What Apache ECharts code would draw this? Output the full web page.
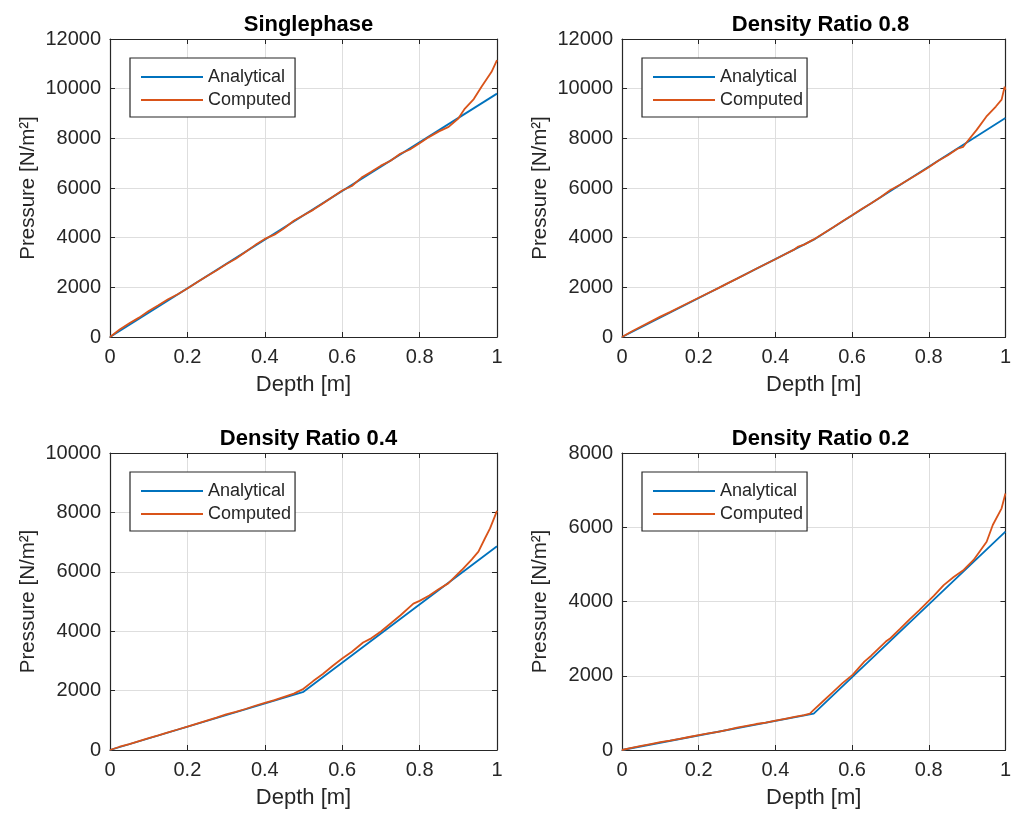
<!DOCTYPE html>
<html><head><meta charset="utf-8">
<script src="https://cdn.jsdelivr.net/npm/echarts@6/dist/echarts.min.js"></script>
<style>html,body{margin:0;padding:0;background:#fff}#c{width:1014px;height:821px}</style>
</head><body><div id="c"></div>
<script>
// ---- data ----
const titles = ['Singlephase', 'Density Ratio 0.8', 'Density Ratio 0.4', 'Density Ratio 0.2'];
const yMax = [12000, 12000, 10000, 8000];
const xTicks = [0, 0.2, 0.4, 0.6, 0.8, 1];

// analytical (depth, pressure)
const anaDepth1 = [0, 1];
const anaP1 = [0, 9800];
const anaDepth2 = [0, 0.5, 1];
const anaP2 = [0, 3920, 8820];
const anaDepth3 = [0, 0.5, 1];
const anaP3 = [0, 1960, 6860];
const anaDepth4 = [0, 0.5, 1];
const anaP4 = [0, 980, 5880];

// computed
const compDepth1 = [0,0.025,0.05,0.075,0.1,0.125,0.15,0.175,0.2,0.225,0.25,0.275,0.3,0.325,0.35,0.375,0.4,0.425,0.45,0.475,0.5,0.525,0.55,0.575,0.6,0.625,0.65,0.675,0.7,0.725,0.75,0.775,0.8,0.825,0.85,0.875,0.9,0.917,0.94,0.96,0.986,1.0];
const compP1 = [0,300,550,780,1050,1280,1520,1720,1950,2200,2450,2680,2930,3150,3420,3700,3950,4120,4380,4680,4900,5120,5380,5640,5900,6080,6420,6650,6900,7100,7380,7550,7800,8060,8280,8460,8800,9200,9580,10080,10680,11150];

const compDepth2 = [0,0.025,0.05,0.075,0.1,0.125,0.15,0.175,0.2,0.225,0.25,0.275,0.3,0.325,0.35,0.375,0.4,0.425,0.45,0.46,0.475,0.5,0.525,0.55,0.575,0.6,0.625,0.65,0.675,0.7,0.725,0.75,0.775,0.8,0.825,0.85,0.875,0.89,0.9,0.925,0.95,0.975,0.99,0.998,1.0];
const compP2 = [0,220,420,620,820,1000,1200,1390,1580,1770,1960,2160,2350,2550,2750,2940,3130,3330,3530,3640,3720,3930,4170,4410,4660,4900,5150,5390,5640,5920,6130,6360,6590,6840,7100,7320,7580,7660,7860,8340,8870,9280,9560,10080,9950];

const compDepth3 = [0,0.025,0.05,0.075,0.1,0.125,0.15,0.175,0.2,0.225,0.25,0.275,0.3,0.325,0.35,0.375,0.4,0.425,0.45,0.475,0.5,0.525,0.55,0.575,0.6,0.625,0.654,0.675,0.7,0.725,0.75,0.784,0.8,0.825,0.85,0.874,0.887,0.909,0.935,0.952,0.969,0.982,1.0];
const compP3 = [0,110,200,300,400,490,590,690,790,890,990,1090,1200,1280,1380,1490,1590,1680,1790,1900,2060,2320,2560,2830,3080,3310,3620,3760,3990,4260,4530,4930,5020,5200,5420,5610,5780,6060,6420,6680,7130,7460,8050];

const compDepth4 = [0,0.025,0.05,0.075,0.1,0.125,0.15,0.175,0.2,0.225,0.25,0.275,0.3,0.325,0.35,0.375,0.4,0.425,0.45,0.475,0.49,0.5,0.525,0.55,0.575,0.602,0.632,0.65,0.688,0.7,0.725,0.75,0.775,0.813,0.839,0.865,0.891,0.917,0.951,0.967,0.99,1.0];
const compP4 = [0,60,110,160,210,250,300,350,400,450,490,540,600,650,700,740,790,840,890,940,980,1080,1320,1560,1800,2030,2380,2540,2920,3010,3260,3520,3760,4150,4440,4660,4850,5120,5610,6060,6510,6910];

const anaDepth = [anaDepth1, anaDepth2, anaDepth3, anaDepth4];
const anaP = [anaP1, anaP2, anaP3, anaP4];
const compDepth = [compDepth1, compDepth2, compDepth3, compDepth4];
const compP = [compP1, compP2, compP3, compP4];

// ---- layout ----
const FONT = '"Liberation Sans", Arial, Helvetica, sans-serif';
const TXT = '#262626';
const grids = [
  {left: 110, top: 39, width: 387, height: 298},
  {left: 622, top: 39, width: 387, height: 298},
  {left: 110, top: 453, width: 387, height: 297},
  {left: 622, top: 453, width: 387, height: 297}
];
const zip = (a, b) => a.map((v, i) => [v, b[i]]);

const option = {
  animation: false,
  backgroundColor: '#fff',
  textStyle: {fontFamily: FONT},
  title: [], grid: [], xAxis: [], yAxis: [], series: [], legend: []
};

grids.forEach((g, i) => {
  option.grid.push({left: g.left, top: g.top, width: g.width, height: g.height, containLabel: false});
  option.title.push({
    text: titles[i], left: g.left + g.width / 2, top: g.top - 30, textAlign: 'center',
    textStyle: {fontFamily: FONT, fontSize: 22, fontWeight: 'bold', color: '#000'}
  });
  const axLine = {show: true, onZero: false, lineStyle: {color: TXT, width: 1.2}};
  const tick = {show: true, inside: true, length: 5, lineStyle: {color: TXT}};
  const split = {show: true, lineStyle: {color: '#dedede', width: 1}};
  option.xAxis.push({
    type: 'value', gridIndex: i, min: 0, max: 1, interval: 0.2, position: 'bottom',
    name: 'Depth [m]', nameLocation: 'middle', nameGap: 37,
    nameTextStyle: {fontFamily: FONT, fontSize: 22, color: TXT},
    axisLine: axLine, axisTick: tick, splitLine: split,
    axisLabel: {fontFamily: FONT, fontSize: 20, color: TXT, margin: 10,
      formatter: v => String(Math.round(v * 10) / 10)}
  });
  option.xAxis.push({
    type: 'value', gridIndex: i, min: 0, max: 1, interval: 0.2, position: 'top',
    axisLine: axLine, axisTick: tick, splitLine: {show: false}, axisLabel: {show: false}
  });
  option.yAxis.push({
    type: 'value', gridIndex: i, min: 0, max: yMax[i], interval: 2000, position: 'left',
    name: 'Pressure [N/m²]', nameLocation: 'middle', nameGap: 71, nameRotate: 90,
    nameTextStyle: {fontFamily: FONT, fontSize: 20.5, color: TXT},
    axisLine: axLine, axisTick: tick, splitLine: split,
    axisLabel: {fontFamily: FONT, fontSize: 20, color: TXT, margin: 9, formatter: v => String(v)}
  });
  option.yAxis.push({
    type: 'value', gridIndex: i, min: 0, max: yMax[i], interval: 2000, position: 'right',
    axisLine: axLine, axisTick: tick, splitLine: {show: false}, axisLabel: {show: false}
  });
  option.series.push({
    name: 'Analytical', type: 'line', xAxisIndex: 2 * i, yAxisIndex: 2 * i,
    data: zip(anaDepth[i], anaP[i]), symbol: 'none', color: '#0072BD',
    lineStyle: {color: '#0072BD', width: 1.8}, z: 2
  });
  option.series.push({
    name: 'Computed', type: 'line', xAxisIndex: 2 * i, yAxisIndex: 2 * i,
    data: zip(compDepth[i], compP[i]), symbol: 'none', color: '#D95319',
    lineStyle: {color: '#D95319', width: 1.8}, z: 3
  });
  option.legend.push({
    orient: 'vertical', left: g.left + 20, top: g.top + 19,
    data: ['Analytical', 'Computed'], icon: 'rect', itemWidth: 62, itemHeight: 2,
    itemGap: 5, padding: [10, 4, 8, 11], borderColor: TXT, borderWidth: 1.2, backgroundColor: '#fff',
    textStyle: {fontFamily: FONT, fontSize: 18, color: TXT, lineHeight: 18},
    selectedMode: false
  });
});

const chart = echarts.init(document.getElementById('c'), null, {renderer: 'canvas'});
chart.setOption(option);
</script>
</body></html>
